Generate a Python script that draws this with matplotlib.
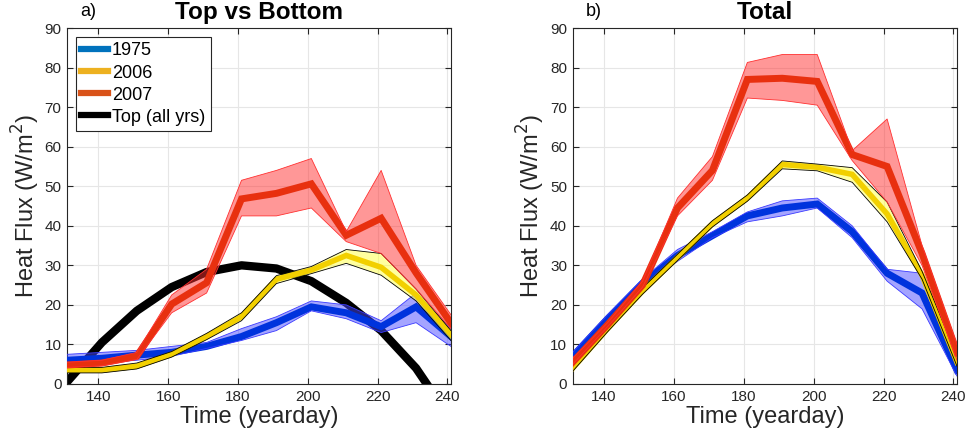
import numpy as np
import matplotlib.pyplot as plt
from matplotlib.lines import Line2D

plt.rcParams['font.family'] = ['Liberation Sans', 'DejaVu Sans']

# Yeardays of the flux estimates
days = [131, 141, 151, 161, 171, 181, 191, 201, 211, 221, 231, 241]

# a) bottom heat flux per year: mean, upper and lower bound (W/m^2)
bot_1975 = [6.0, 6.5, 7.3, 8.0, 9.5, 12.0, 15.5, 19.5, 18.0, 14.5, 19.5, 12.0]
bot_1975_hi = [7.5, 8.0, 8.5, 9.5, 10.5, 14.0, 17.0, 21.0, 20.0, 16.0, 23.0, 14.0]
bot_1975_lo = [4.5, 5.3, 6.0, 7.0, 9.0, 11.0, 13.5, 18.5, 16.5, 13.0, 15.5, 9.5]
bot_2006 = [3.5, 3.5, 4.5, 7.5, 12.0, 17.0, 26.5, 28.8, 32.5, 29.5, 22.5, 12.5]
bot_2006_hi = [4.2, 4.2, 5.3, 8.2, 12.8, 18.0, 27.4, 29.7, 34.0, 33.0, 24.0, 13.5]
bot_2006_lo = [2.8, 2.8, 3.8, 6.8, 11.2, 16.0, 25.4, 27.9, 30.5, 27.5, 21.0, 11.0]
bot_2007 = [4.8, 5.3, 7.0, 20.2, 25.6, 46.8, 48.2, 50.6, 37.6, 41.9, 28.1, 15.4]
bot_2007_hi = [5.5, 6.0, 8.0, 22.5, 29.0, 51.5, 54.0, 57.0, 38.5, 54.0, 30.0, 17.5]
bot_2007_lo = [4.2, 4.6, 6.2, 18.0, 23.0, 42.5, 42.5, 44.5, 36.0, 33.0, 24.0, 14.0]
top_all = [0.5, 10.5, 18.5, 24.5, 28.3, 30.0, 29.2, 26.0, 20.5, 13.5, 4.0, -9.0]

# b) total heat flux per year
tot_1975 = [7.0, 16.5, 25.5, 32.5, 37.5, 42.5, 44.5, 45.5, 38.5, 28.0, 23.0, 3.5]
tot_1975_hi = [8.0, 17.5, 26.5, 34.0, 38.5, 43.5, 46.3, 47.0, 40.0, 29.0, 28.0, 5.0]
tot_1975_lo = [6.0, 15.5, 24.5, 31.0, 37.0, 41.0, 42.5, 44.5, 37.0, 26.0, 19.0, 2.0]
tot_2006 = [4.0, 14.0, 23.5, 32.0, 40.5, 47.0, 55.5, 54.8, 53.0, 43.0, 27.5, 5.5]
tot_2006_hi = [4.8, 14.8, 24.3, 32.8, 41.3, 47.8, 56.4, 55.6, 54.7, 46.0, 28.5, 7.0]
tot_2006_lo = [3.2, 13.2, 22.7, 31.2, 39.7, 46.2, 54.4, 53.9, 51.0, 41.0, 26.5, 4.5]
tot_2007 = [5.5, 15.0, 25.0, 44.5, 54.0, 77.0, 77.3, 76.5, 58.0, 55.0, 33.0, 8.0]
tot_2007_hi = [6.5, 15.5, 26.0, 47.0, 57.5, 81.3, 83.3, 83.3, 59.0, 67.0, 35.0, 10.0]
tot_2007_lo = [5.0, 14.5, 24.5, 42.5, 51.5, 72.3, 71.7, 70.5, 56.5, 46.0, 30.0, 6.0]

years = ['1975', '2006', '2007']
line_cols = ['#0033dd', '#f2d000', '#e8300f']
fill_cols = ['#4b4bff', '#ffff40', '#ff3030']
edge_cols = ['#3a3aff', '#000000', '#ff3030']
line_w = [5, 4, 5]
legend_cols = ['#0072BD', '#EDB120', '#D95319']

fig = plt.figure(figsize=(9.69, 4.40), dpi=100)
ax1 = fig.add_axes([0.0691, 0.1273, 0.3963, 0.809])
ax2 = fig.add_axes([0.591, 0.1273, 0.3966, 0.809])


def draw_year(ax, mean, hi, lo, k):
    ax.fill_between(days, lo, hi, facecolor=fill_cols[k], alpha=0.5,
                    edgecolor='none', zorder=3 + k)
    ax.plot(days, mean, color=line_cols[k], lw=line_w[k],
            solid_joinstyle='miter', zorder=3 + k)
    # thin outline of the band, kept above the mean line
    ax.plot(days, hi, color=edge_cols[k], lw=0.6, zorder=3.5 + k)
    ax.plot(days, lo, color=edge_cols[k], lw=0.6, zorder=3.5 + k)


ax1.plot(days, top_all, color='k', lw=6, zorder=2)
draw_year(ax1, bot_1975, bot_1975_hi, bot_1975_lo, 0)
draw_year(ax1, bot_2006, bot_2006_hi, bot_2006_lo, 1)
draw_year(ax1, bot_2007, bot_2007_hi, bot_2007_lo, 2)

draw_year(ax2, tot_1975, tot_1975_hi, tot_1975_lo, 0)
draw_year(ax2, tot_2006, tot_2006_hi, tot_2006_lo, 1)
draw_year(ax2, tot_2007, tot_2007_hi, tot_2007_lo, 2)

for ax, title, tag in [(ax1, 'Top vs Bottom', 'a)'), (ax2, 'Total', 'b)')]:
    ax.set_xlim(131, 241)
    ax.set_ylim(0, 90)
    ax.set_xticks(np.arange(140, 241, 20))
    ax.set_yticks(np.arange(0, 91, 10))
    ax.grid(True, color='#e6e6e6', lw=0.8)
    ax.set_axisbelow(True)
    ax.tick_params(direction='in', top=True, right=True, length=4,
                   labelsize=11, colors='#262626', pad=4)
    for s in ax.spines.values():
        s.set_color('#262626')
        s.set_linewidth(0.8)
    ax.set_xlabel('Time (yearday)', fontsize=17, color='#262626', labelpad=2)
    ax.set_ylabel('Heat Flux (W/m$^2$)', fontsize=17, color='#262626',
                  labelpad=2)
    ax.text(0.5, 1.045, title, transform=ax.transAxes, fontsize=17.5,
            fontweight='bold', ha='center', va='center')
    ax.text(0.034, 1.047, tag, transform=ax.transAxes, fontsize=13,
            va='center', ha='left')

handles = [Line2D([], [], color=c, lw=4.5) for c in legend_cols]
handles.append(Line2D([], [], color='k', lw=4.5))
leg = ax1.legend(handles, years + ['Top (all yrs)'], loc='upper left',
                 fontsize=13, handlelength=1.45, handletextpad=0.25,
                 labelspacing=0.28, borderpad=0.3, borderaxespad=0.5,
                 fancybox=False, framealpha=1)
leg.get_frame().set_edgecolor('#262626')
leg.get_frame().set_linewidth(0.8)

fig.savefig('out.png', dpi=100)
